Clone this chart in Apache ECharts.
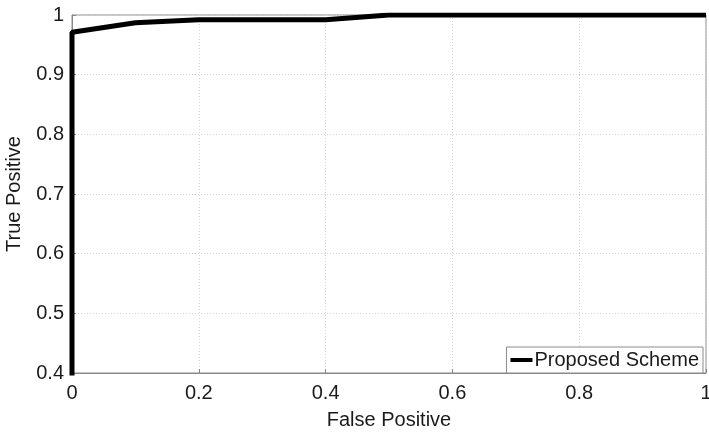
<!DOCTYPE html>
<html>
<head>
<meta charset="utf-8">
<script src="https://cdn.jsdelivr.net/npm/echarts@6/dist/echarts.min.js"></script>
<style>
  html, body { margin: 0; padding: 0; background: #fff; }
  #chart { width: 709px; height: 434px; }
</style>
</head>
<body>
<div id="chart"></div>
<script>
// ROC 曲线数据
const falsePositive = [0, 0, 0.1, 0.2, 0.4, 0.5, 1]
const truePositive = [0, 0.971, 0.987, 0.992, 0.992, 1, 1]
const seriesName = 'Proposed Scheme'

const chart = echarts.init(document.getElementById('chart'))

const axisFont = {
  color: '#1a1a1a',
  fontSize: 20,
  fontFamily: 'Liberation Sans, Arial, sans-serif'
}

const option = {
  backgroundColor: '#fff',
  animation: false,
  grid: {
    left: 72,
    right: 3,
    top: 15,
    bottom: 61,
    outerBoundsMode: 'none',
    containLabel: false,
    show: true,
    borderColor: '#8a8a8a',
    borderWidth: 1
  },
  legend: {
    data: [{ name: seriesName, icon: 'rect' }],
    right: 6,
    bottom: 61,
    itemWidth: 22,
    itemHeight: 4,
    itemGap: 4,
    padding: [3, 4, 3, 4],
    backgroundColor: '#fff',
    borderColor: '#8a8a8a',
    borderWidth: 1,
    borderRadius: 0,
    textStyle: { ...axisFont, padding: [0, 0, 0, -3] }
  },
  xAxis: {
    type: 'value',
    min: 0,
    max: 1,
    interval: 0.2,
    name: 'False Positive',
    nameLocation: 'middle',
    nameGap: 37,
    nameTextStyle: axisFont,
    axisLine: { show: true, lineStyle: { color: '#8a8a8a' } },
    axisTick: { show: true, inside: true, length: 4, lineStyle: { color: '#8a8a8a' } },
    axisLabel: { ...axisFont, margin: 10 },
    splitLine: { show: true, lineStyle: { color: '#d4d4d4', type: [1, 2] } }
  },
  yAxis: {
    type: 'value',
    min: 0.4,
    max: 1,
    interval: 0.1,
    name: 'True Positive',
    nameLocation: 'middle',
    nameGap: 48,
    nameTextStyle: axisFont,
    axisLine: { show: true, lineStyle: { color: '#8a8a8a' } },
    axisTick: { show: true, inside: true, length: 4, lineStyle: { color: '#8a8a8a' } },
    axisLabel: { ...axisFont, margin: 8 },
    splitLine: { show: true, lineStyle: { color: '#d4d4d4', type: [1, 2] } }
  },
  series: [
    {
      name: seriesName,
      type: 'line',
      data: falsePositive.map((x, i) => [x, truePositive[i]]),
      symbol: 'none',
      lineStyle: { color: '#000', width: 5 },
      itemStyle: { color: '#000' },
      clip: true
    }
  ]
}

chart.setOption(option)
</script>
</body>
</html>
